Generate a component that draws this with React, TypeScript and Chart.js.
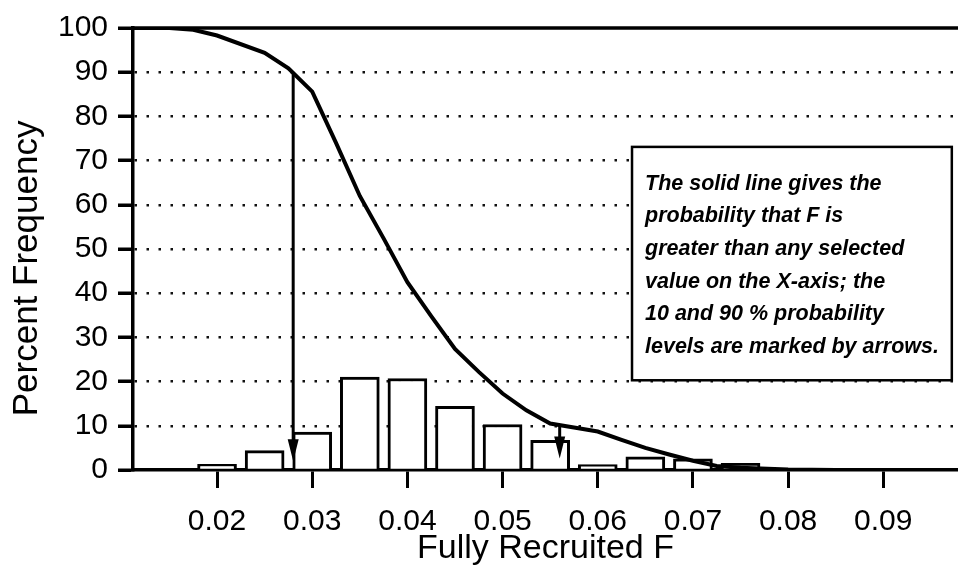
import React, { useEffect, useRef } from "react";
import { Chart, registerables } from "chart.js";

Chart.register(...registerables);

// ---------- data ----------
const binCenters = [0.02, 0.025, 0.03, 0.035, 0.04, 0.045, 0.05, 0.055, 0.06, 0.065, 0.07, 0.075];
const binPercents = [1.3, 4.4, 8.6, 21.0, 20.7, 14.4, 10.3, 6.7, 1.2, 3.0, 2.5, 1.5];

const curveF = [0.0112, 0.015, 0.0175, 0.02, 0.025, 0.0275, 0.03, 0.0325, 0.035, 0.0375, 0.04, 0.0425, 0.045, 0.0475, 0.05, 0.0525, 0.055, 0.0575, 0.06, 0.0625, 0.065, 0.0675, 0.07, 0.0725, 0.075, 0.08, 0.085, 0.0979];
const curveProb = [100, 100, 99.6, 98.3, 94.4, 90.9, 85.6, 74, 62, 52.4, 42.5, 34.8, 27.4, 22.2, 17.3, 13.5, 10.5, 9.6, 8.7, 6.8, 5.0, 3.5, 2.1, 0.9, 0.5, 0.1, 0, 0];

const xTickValues = [0.02, 0.03, 0.04, 0.05, 0.06, 0.07, 0.08, 0.09];
const yTickValues = [0, 10, 20, 30, 40, 50, 60, 70, 80, 90, 100];

const arrowF = [0.028, 0.056];
const arrowFrom = [90, 10.2];
const arrowTo = [2.0, 2.6];

const noteLines = [
  "The solid line gives the",
  "probability that F is",
  "greater than any selected",
  "value on the X-axis; the",
  "10 and 90 % probability",
  "levels are marked by arrows.",
];

const xTitle = "Fully Recruited F";
const yTitle = "Percent Frequency";

// ---------- layout / style ----------
const X_MIN = 0.01117;
const X_MAX = 0.09785;
const NOTE_BOX = { f0: 0.0636, f1: 0.0972, p0: 20.3, p1: 73.1 };
const FONT = "'Liberation Sans', Arial, Helvetica, sans-serif";
const Y_TITLE_SHIFT = "    "; // trailing space shifts the rotated title toward the bottom

const overlayPlugin = {
  id: "overlay",
  afterDatasetsDraw(chart: any) {
    const { ctx, chartArea, scales } = chart;
    const x = scales.x;
    const y = scales.y;
    ctx.save();
    ctx.strokeStyle = "#000";
    ctx.fillStyle = "#000";

    // top frame line at 100
    const yTop = y.getPixelForValue(100);
    ctx.lineWidth = 3.5;
    ctx.beginPath();
    ctx.moveTo(chartArea.left - 1.75, yTop);
    ctx.lineTo(chartArea.right, yTop);
    ctx.stroke();

    // arrows
    for (let i = 0; i < arrowF.length; i++) {
      const px = x.getPixelForValue(arrowF[i]);
      const py0 = y.getPixelForValue(arrowFrom[i]);
      const py1 = y.getPixelForValue(arrowTo[i]);
      const headLen = 22;
      const headHalf = 5.5;
      ctx.lineWidth = 3;
      ctx.beginPath();
      ctx.moveTo(px, py0);
      ctx.lineTo(px, py1 - headLen + 2);
      ctx.stroke();
      ctx.beginPath();
      ctx.moveTo(px - headHalf, py1 - headLen);
      ctx.lineTo(px + headHalf, py1 - headLen);
      ctx.lineTo(px, py1);
      ctx.closePath();
      ctx.fill();
    }

    // note box
    const bx0 = x.getPixelForValue(NOTE_BOX.f0);
    const bx1 = x.getPixelForValue(NOTE_BOX.f1);
    const by0 = y.getPixelForValue(NOTE_BOX.p1);
    const by1 = y.getPixelForValue(NOTE_BOX.p0);
    ctx.fillStyle = "#fff";
    ctx.fillRect(bx0, by0, bx1 - bx0, by1 - by0);
    ctx.lineWidth = 2.5;
    ctx.strokeStyle = "#000";
    ctx.strokeRect(bx0, by0, bx1 - bx0, by1 - by0);
    ctx.fillStyle = "#000";
    ctx.font = `italic bold 21.5px ${FONT}`;
    ctx.textBaseline = "middle";
    ctx.textAlign = "left";
    noteLines.forEach((line, i) => {
      ctx.fillText(line, bx0 + 13, by0 + 37 + i * 32.6);
    });
    ctx.restore();
  },
};

export default function App() {
  const canvasRef = useRef<HTMLCanvasElement | null>(null);

  useEffect(() => {
    const canvas = canvasRef.current;
    if (!canvas) return;
    Chart.defaults.font.family = FONT;
    Chart.defaults.color = "#000";

    const chart = new Chart(canvas, {
      type: "bar",
      data: {
        datasets: [
          {
            type: "line",
            label: "P(F > x)",
            data: curveF.map((f, i) => ({ x: f, y: curveProb[i] })),
            borderColor: "#000",
            borderWidth: 4,
            pointRadius: 0,
            tension: 0,
            fill: false,
            order: 0,
          } as any,
          {
            type: "bar",
            label: "Percent frequency",
            data: binCenters.map((f, i) => ({ x: f, y: binPercents[i] })),
            backgroundColor: "#fff",
            borderColor: "#000",
            borderWidth: 3,
            barThickness: 39,
            order: 1,
          } as any,
        ],
      },
      options: {
        animation: false,
        responsive: false,
        maintainAspectRatio: false,
        layout: { padding: { top: 22, left: 0, right: 0, bottom: 0 } },
        plugins: {
          legend: { display: false },
          tooltip: { enabled: false },
        },
        scales: {
          x: {
            type: "linear",
            min: X_MIN,
            max: X_MAX,
            offset: false,
            afterBuildTicks: (s: any) => {
              s.ticks = xTickValues.map((v) => ({ value: v }));
            },
            afterFit: (s: any) => {
              s.height = 100;
            },
            ticks: {
              font: { size: 30 },
              color: "#000",
              padding: 16,
              maxRotation: 0,
              autoSkip: false,
              callback: (v: any) => Number(v).toFixed(2),
            },
            grid: {
              offset: false,
              drawOnChartArea: false,
              drawTicks: true,
              tickLength: 18,
              tickWidth: 3,
              tickColor: "#000",
            },
            border: { display: true, color: "#000", width: 3.5 },
            title: {
              display: true,
              text: xTitle,
              color: "#000",
              font: { size: 34, lineHeight: 1 },
              padding: { top: 0, bottom: 4 },
            },
          },
          y: {
            type: "linear",
            min: 0,
            max: 100,
            afterBuildTicks: (s: any) => {
              s.ticks = yTickValues.map((v) => ({ value: v }));
            },
            afterFit: (s: any) => {
              s.width = 133;
            },
            ticks: {
              font: { size: 30 },
              color: "#000",
              padding: 10,
            },
            grid: {
              color: (c: any) =>
                c.tick && (c.tick.value === 0 || c.tick.value === 100) ? "rgba(0,0,0,0)" : "#111",
              lineWidth: 2.5,
              drawTicks: true,
              tickLength: 15,
              tickWidth: 3.5,
              tickColor: "#000",
            },
            border: { display: true, color: "#000", width: 3.5, dash: [2.5, 9.5] },
            title: {
              display: true,
              text: yTitle + Y_TITLE_SHIFT,
              color: "#000",
              font: { size: 35, lineHeight: 1 },
              padding: { top: 10, bottom: 0 },
            },
          },
        },
      },
      plugins: [overlayPlugin],
    } as any);

    return () => chart.destroy();
  }, []);

  return (
    <div style={{ position: "absolute", left: 0, top: 0, width: 958, height: 570, background: "#fff" }}>
      <canvas ref={canvasRef} width={958} height={570} style={{ display: "block" }} />
    </div>
  );
}
